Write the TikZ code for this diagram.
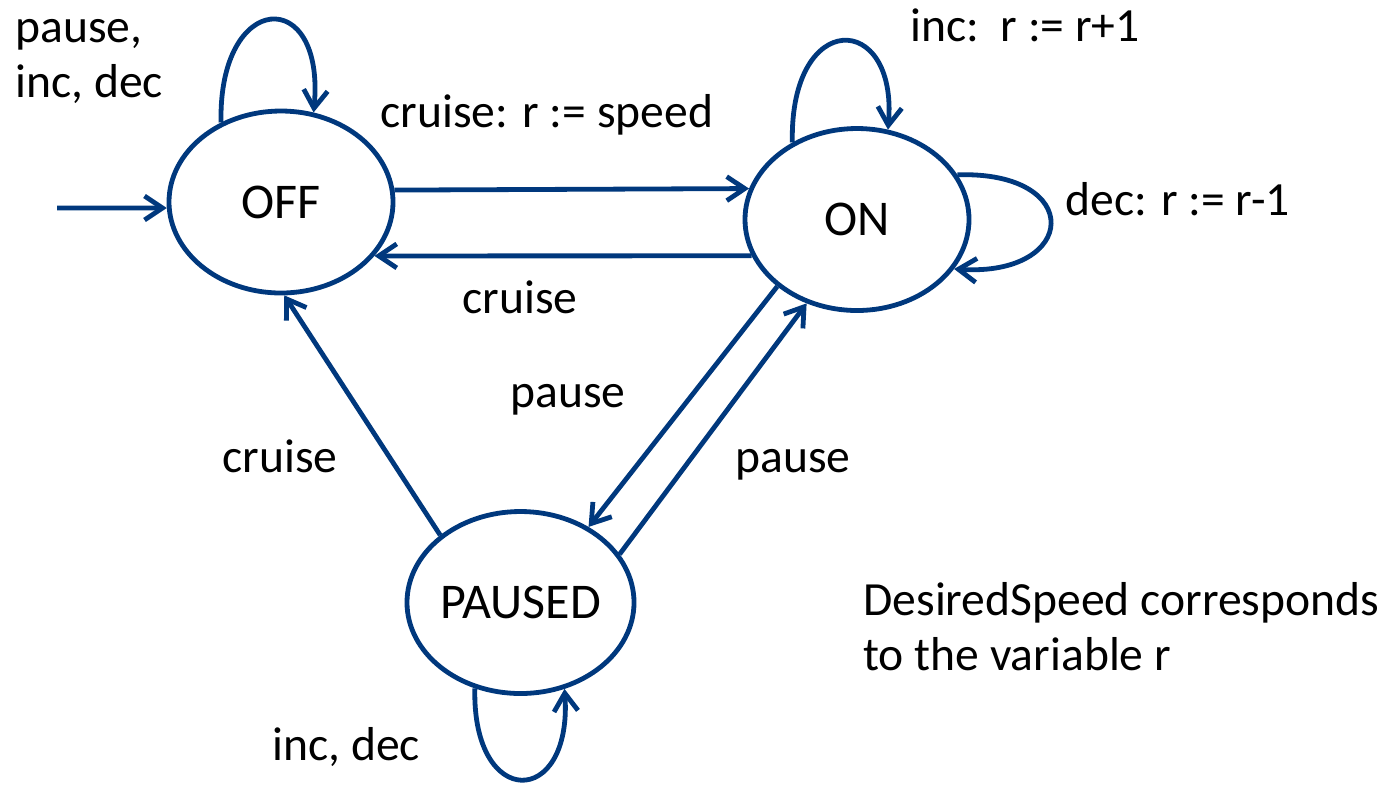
\documentclass[tikz,border=0pt]{standalone}
\usepackage{fontspec}
\setmainfont{Carlito}
\usetikzlibrary{shapes.geometric,arrows.meta}
\definecolor{navy}{RGB}{0,56,125}

\begin{document}
\begin{tikzpicture}[x=0.5pt,y=-0.5pt,
statenode/.style={ellipse, draw=navy, line width=2.4pt, minimum width=112pt, minimum height=91pt, inner sep=0pt, font=\fontsize{25}{30}\selectfont},
lbl/.style={anchor=base west, inner sep=0pt, align=left, font=\fontsize{23.8}{27.5}\selectfont},
trans/.style={->,>={Straight Barb[length=9pt,width=12pt]},draw=navy,line width=2.4pt},
]
\useasboundingbox (0,0) rectangle (1400,784);
%nodes
\node[statenode](off) at (281,202) {OFF};
\node[statenode](on) at (857,219.5) {ON};
\node[statenode](paused) at (520.5,602.5) {PAUSED};
\coordinate (start) at (57,208);
%labels
\node[lbl](lbloff) at (15,97) {pause,\\inc, dec};
\node[lbl](lblinc) at (910,41) {inc:\ \ r := r+1};
\node[lbl](lblset) at (380,127) {cruise: r := speed};
\node[lbl](lbldec) at (1065,215) {dec: r := r-1};
\node[lbl](lblcrtop) at (462,313) {cruise};
\node[lbl](lblpaleft) at (510,407) {pause};
\node[lbl](lblcrleft) at (222,472) {cruise};
\node[lbl](lblparight) at (735,472) {pause};
\node[lbl](note) at (863,670) {DesiredSpeed corresponds\\to the variable r};
\node[lbl](lblpaused) at (272,760) {inc, dec};
%connections
\draw[trans] (start) -- (off.183);
\draw[trans] (off.6) -- (on.164);
\draw[trans] (on.199) -- (off.330);
\draw[trans] (paused.140) -- (off.272);
\draw[trans] (on.220) -- (paused.48);
\draw[trans] (paused.26) -- (on.239);
%loops
\draw[trans] (off.127) .. controls +(-3,-132) and +(12,-128) .. (off.70);
\draw[trans] (on.130) .. controls +(-3,-134) and +(10,-119) .. (on.71);
\draw[trans] (on.24) .. controls +(128,-4) and +(124,8) .. (on.333);
\draw[trans] (paused.242) .. controls +(-3,122) and +(8,120) .. (paused.297);
\end{tikzpicture}
\end{document}
